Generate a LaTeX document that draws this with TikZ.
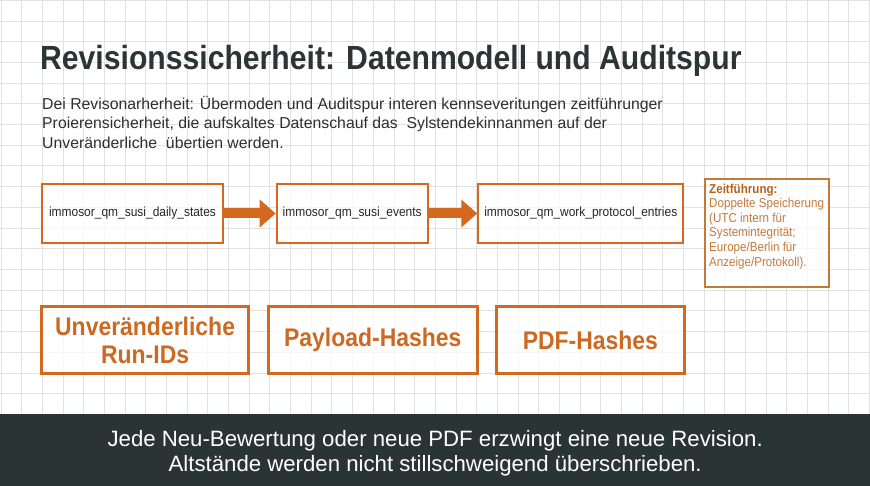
\documentclass[tikz,border=0pt]{standalone}
\usepackage{fontspec}
\setmainfont{Liberation Sans}[FakeStretch=0.9]
\newfontfamily\plainsans{Liberation Sans}
\usetikzlibrary{arrows.meta}
\definecolor{gridc}{HTML}{E2E2E2}
\definecolor{titlec}{HTML}{2D3436}
\definecolor{parac}{HTML}{2E2E2E}
\definecolor{orng}{HTML}{D2691E}
\definecolor{orngtext}{HTML}{CC6A24}
\definecolor{zeitc}{HTML}{C4793B}
\definecolor{zeitdark}{HTML}{B5621F}
\definecolor{footc}{HTML}{2A3434}
\begin{document}
\begin{tikzpicture}[x=1pt,y=-1pt,
  tablebox/.style={draw=orng, line width=2pt, fill=white, fill opacity=0.75, text opacity=1, minimum height=58.4pt, inner sep=0pt, font=\fontsize{13.3}{16}\selectfont, text=black!85},
  featbox/.style={draw=orng, line width=3pt, fill=white, fill opacity=0.75, text opacity=1, minimum height=66.3pt, inner sep=0pt, font=\bfseries\fontsize{25.5}{28}\selectfont, text=orngtext, align=center},
  flow/.style={draw=orng, line width=10pt, -{Triangle[width=27pt,length=16pt]}},
  introline/.style={anchor=base west, inner sep=0pt, text=parac, font=\plainsans\fontsize{15.8}{19.5}\selectfont},
]
\useasboundingbox (0,0) rectangle (870,486);
\fill[white] (0,0) rectangle (870,486);
\foreach \i in {0,...,42} \draw[gridc, line width=0.8pt] ({1+20.68*\i},0) -- ({1+20.68*\i},414);
\foreach \j in {0,...,19} \draw[gridc, line width=0.8pt] (0,{0.3+20.7*\j}) -- (870,{0.3+20.7*\j});

\node[anchor=base west, inner sep=0pt, text=titlec, font=\bfseries\fontsize{33.5}{40}\selectfont] (title) at (40,70) {Revisionssicherheit: Datenmodell und Auditspur};

\node[introline] (intro1) at (42,109.5) {Dei Revisonarherheit: Übermoden und Auditspur interen kennseveritungen zeitführunger};
\node[introline] (intro2) at (42,129) {Proierensicherheit, die aufskaltes Datenschauf das\ \ Sylstendekinnanmen auf der};
\node[introline] (intro3) at (42,148.5) {Unveränderliche\ \ übertien werden.};

\node[tablebox, minimum width=181.6pt] (t1) at (132.5,213.5) {immosor\_qm\_susi\_daily\_states};
\node[tablebox, minimum width=151pt] (t2) at (352.2,213.5) {immosor\_qm\_susi\_events};
\node[tablebox, minimum width=205pt] (t3) at (580.8,213.5) {immosor\_qm\_work\_protocol\_entries};
\draw[flow] (t1.east) -- (t2.west);
\draw[flow] (t2.east) -- (t3.west);

\node[draw=zeitc, line width=1.8pt, fill=white, fill opacity=0.75, minimum width=124.3pt, minimum height=107.7pt, anchor=north west, inner sep=0pt] (zeit) at (704,178.3) {};
\node[anchor=north west, inner sep=0pt, align=left, text=zeitc, font=\fontsize{12.9}{14.6}\selectfont] (zeittext) at (709,183.5) {\textcolor{zeitdark}{\bfseries Zeitführung:}\\Doppelte Speicherung\\(UTC intern für\\Systemintegrität;\\Europe/Berlin für\\Anzeige/Protokoll).};

\node[featbox, minimum width=206.8pt] (f1) at (145.1,339.9) {Unveränderliche\\Run-IDs};
\node[featbox, minimum width=209pt] (f2) at (372.8,339.9) {Payload-Hashes};
\node[featbox, minimum width=187.7pt] (f3) at (590.4,339.9) {PDF-Hashes};

\node[fill=footc, minimum width=870pt, minimum height=79.5pt, anchor=north west, inner sep=0pt, text=white, align=center, font=\plainsans\fontsize{22.2}{25}\selectfont] (footer) at (0,413.5) {Jede Neu-Bewertung oder neue PDF erzwingt eine neue Revision.\\Altstände werden nicht stillschweigend überschrieben.};
\end{tikzpicture}
\end{document}
